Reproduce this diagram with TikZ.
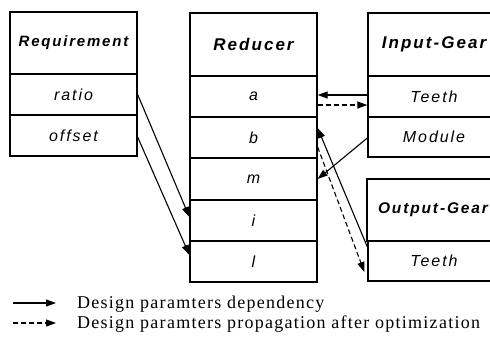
\documentclass[tikz,border=0pt]{standalone}
\usepackage{fontspec}
\setmainfont{Liberation Serif}
\setsansfont{Liberation Sans}
\newfontfamily\boxfont[LetterSpace=12]{Liberation Sans}
\newfontfamily\legfont[LetterSpace=7]{Liberation Serif}
\usetikzlibrary{arrows.meta}
\tikzset{
  cell/.style={draw, line width=1.3pt, inner sep=0pt, fill=white,
    font=\boxfont\itshape\fontsize{16}{18}\selectfont, minimum width=127pt},
  gcell/.style={cell, minimum width=132pt},
  hdr/.style={font=\boxfont\bfseries\itshape\fontsize{17}{19}\selectfont},
  dep/.style={-{Triangle[length=10pt,width=7pt]}, line width=1.1pt},
  prop/.style={dep, dash pattern=on 5pt off 3pt},
  legtext/.style={anchor=base west, inner sep=0pt, font=\legfont\fontsize{18}{20}\selectfont}
}
\begin{document}
\begin{tikzpicture}[x=1pt,y=-1pt]
\useasboundingbox (0,0) rectangle (490,339);
% Requirement
\node[cell, hdr, font=\boxfont\bfseries\itshape\fontsize{15}{17}\selectfont, minimum height=62pt] (reqh) at (73.5,43) {Requirement};
\node[cell, minimum height=41pt] (ratio) at (73.5,94.5) {ratio};
\node[cell, minimum height=41pt] (offset) at (73.5,135.5) {offset};
% Reducer
\node[cell, hdr, minimum height=63pt] (redh) at (253.5,44.5) {Reducer};
\node[cell, minimum height=41pt] (a) at (253.5,96.5) {a};
\node[cell, minimum height=41pt] (b) at (253.5,137.5) {b};
\node[cell, minimum height=42pt] (m) at (253.5,179) {m};
\node[cell, minimum height=41pt] (i) at (253.5,220.5) {i};
\node[cell, minimum height=41pt] (l) at (253.5,261.5) {l};
% Input-Gear
\node[gcell, hdr, minimum height=63pt] (inh) at (434,44.5) {Input-Gear};
\node[gcell, minimum height=41pt] (inteeth) at (434,96.5) {Teeth};
\node[gcell, minimum height=40pt] (module) at (434,137) {Module};
% Output-Gear
\node[gcell, hdr, font=\boxfont\bfseries\itshape\fontsize{15.5}{17}\selectfont, minimum height=62pt] (outh) at (433,210) {Output-Gear};
\node[gcell, minimum height=40pt] (outteeth) at (434,261) {Teeth};
% connectors
\draw[dep] (ratio.east) -- ([yshift=3.5pt]i.west);
\draw[dep] ([yshift=-1.5pt]offset.east) -- ([yshift=6.5pt]l.west);
\draw[dep] ([yshift=1.5pt]inteeth.west) -- ([yshift=1.5pt]a.east);
\draw[prop] ([yshift=-8.5pt]a.east) -- ([yshift=-8.5pt]inteeth.west);
\draw[dep] ([yshift=-1pt]module.west) -- (m.east);
\draw[dep] ([yshift=14pt]outteeth.west) -- ([yshift=9.5pt]b.east);
\draw[prop] ([yshift=-9.5pt]b.east) -- ([xshift=-3pt,yshift=-11pt]outteeth.west);
% legend
\coordinate (s1) at (13,303);
\coordinate (s2) at (13,323);
\node[legtext] (t1) at (77,308) {Design paramters dependency};
\node[legtext] (t2) at (77,328) {Design paramters propagation after optimization};
\draw[dep] (s1) -- ([xshift=-21pt]t1.west |- s1);
\draw[prop] (s2) -- ([xshift=-21pt]t2.west |- s2);
\end{tikzpicture}
\end{document}
